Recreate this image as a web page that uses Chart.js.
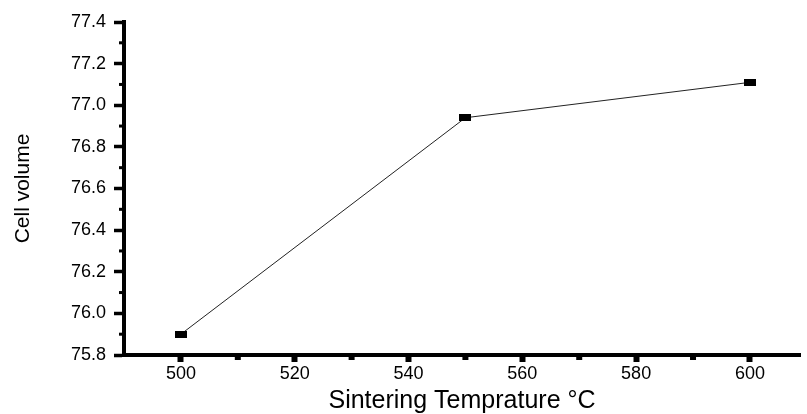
<!DOCTYPE html>
<html>
<head>
<meta charset="utf-8">
<title>Cell volume vs sintering temperature</title>
<script src="https://cdn.jsdelivr.net/npm/chart.js@4.4.1/dist/chart.umd.min.js"></script>
<style>
  html, body { margin: 0; padding: 0; background: #fff; }
  #wrap { width: 807px; height: 414px; }
</style>
</head>
<body>
<div id="wrap"><canvas id="cellChart" width="807" height="414"></canvas></div>
<script>
// values
const temperatures = [500, 550, 600];
const cellVolume = [75.90, 76.94, 77.11];

const xTickValues = [500, 520, 540, 560, 580, 600];
const yTickValues = [75.8, 76.0, 76.2, 76.4, 76.6, 76.8, 77.0, 77.2, 77.4];
const xMinorTicks = [510, 530, 550, 570, 590];
const yMinorTicks = [75.9, 76.1, 76.3, 76.5, 76.7, 76.9, 77.1, 77.3];

// small flat rectangle marker, like the original plot
function makeMarker(w, h) {
    const c = document.createElement('canvas');
    c.width = w;
    c.height = h;
    const cx = c.getContext('2d');
    cx.fillStyle = '#000';
    cx.fillRect(0, 0, w, h);
    return c;
}

// short minor ticks between the labelled ones
const minorTicks = {
    id: 'minorTicks',
    afterDraw(chart) {
        const ctx = chart.ctx;
        const x = chart.scales.x;
        const y = chart.scales.y;
        const area = chart.chartArea;
        ctx.save();
        ctx.fillStyle = '#000';
        yMinorTicks.forEach(v => {
            const py = y.getPixelForValue(v);
            ctx.fillRect(area.left - 5, py - 1.5, 3, 3);
        });
        xMinorTicks.forEach(v => {
            const px = x.getPixelForValue(v);
            ctx.fillRect(px - 3, area.bottom + 2, 6, 3);
        });
        ctx.restore();
    }
};

const fontFamily = 'Liberation Sans, Arial, sans-serif';
const tickFont = { family: fontFamily, size: 18 };

const ctx = document.getElementById('cellChart').getContext('2d');

new Chart(ctx, {
    type: 'line',
    data: {
        datasets: [{
            label: 'Cell volume',
            data: temperatures.map((t, i) => ({ x: t, y: cellVolume[i] })),
            borderColor: '#222',
            borderWidth: 1,
            pointStyle: makeMarker(12, 7),
            pointRadius: 6,
            pointHoverRadius: 6,
            fill: false,
            tension: 0
        }]
    },
    options: {
        responsive: false,
        devicePixelRatio: 1,
        animation: false,
        layout: { padding: { top: 22, right: 0, bottom: 0, left: 0 } },
        plugins: {
            legend: { display: false },
            tooltip: { enabled: false }
        },
        scales: {
            x: {
                type: 'linear',
                min: 490,
                max: 608.8,
                afterBuildTicks: scale => {
                    scale.ticks = xTickValues.map(v => ({ value: v }));
                },
                afterFit: scale => { scale.height = 59; },
                grid: {
                    drawOnChartArea: false,
                    tickLength: 7,
                    tickWidth: 6,
                    tickColor: '#000'
                },
                border: { color: '#000', width: 4 },
                ticks: {
                    color: '#000',
                    padding: 1,
                    maxRotation: 0,
                    font: tickFont
                },
                title: {
                    display: true,
                    text: 'Sintering Temprature \u00B0C',
                    color: '#000',
                    padding: { top: 0, bottom: 0 },
                    font: { family: fontFamily, size: 25, lineHeight: 1 }
                }
            },
            y: {
                min: 75.8,
                max: 77.4,
                afterBuildTicks: scale => {
                    scale.ticks = yTickValues.map(v => ({ value: v }));
                },
                afterFit: scale => { scale.width = 124; },
                grid: {
                    drawOnChartArea: false,
                    tickLength: 10,
                    tickWidth: 3.5,
                    tickColor: '#000'
                },
                border: { color: '#000', width: 4 },
                ticks: {
                    color: '#000',
                    padding: 8,
                    callback: v => Number(v).toFixed(1),
                    font: tickFont
                },
                title: {
                    display: true,
                    text: 'Cell volume',
                    color: '#000',
                    padding: { top: 11, bottom: 0 },
                    font: { family: fontFamily, size: 21 }
                }
            }
        }
    },
    plugins: [minorTicks]
});
</script>
</body>
</html>
